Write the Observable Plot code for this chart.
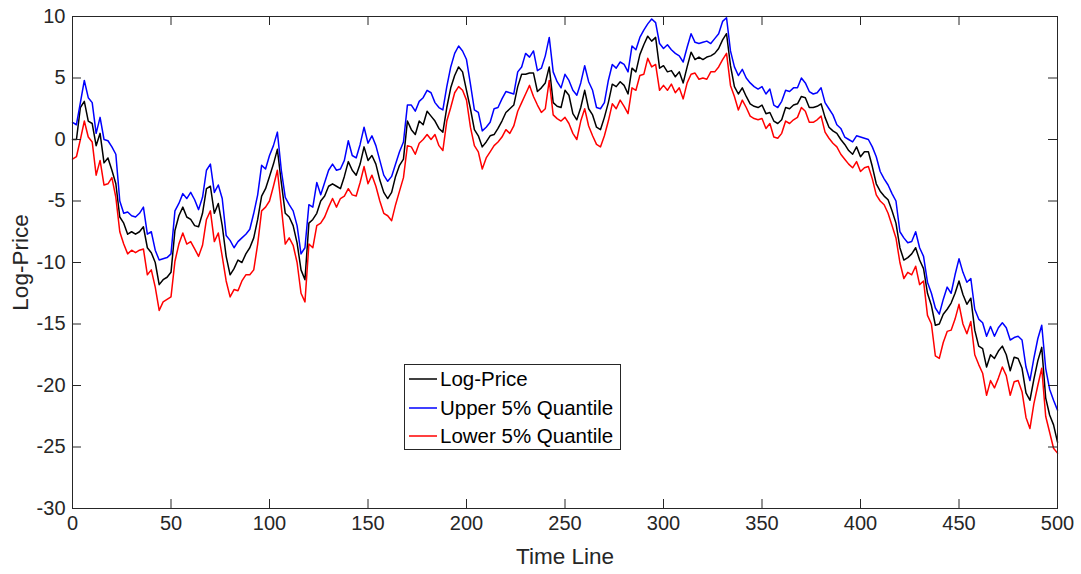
<!DOCTYPE html>
<html><head><meta charset="utf-8">
<script src="https://cdn.jsdelivr.net/npm/d3@7"></script>
<script src="https://cdn.jsdelivr.net/npm/@observablehq/plot@0.6"></script>
<style>
html,body{margin:0;padding:0;background:#fff;}
#chart{position:relative;width:1081px;height:574px;overflow:hidden;}
#legend{position:absolute;}
</style></head><body><div id="chart"></div>
<script>
// time index (every 2nd step of the 0..500 time line)
const timeLine = d3.range(0, 501, 2);

const logPrice = [
  0.0, 0.0, 2.6, 3.1, 1.5, 1.3, -0.5, 0.5, -1.9, -1.5,
  -2.5, -3.6, -6.3, -6.8, -7.7, -7.5, -7.7, -7.5, -7.1, -8.8,
  -9.2, -10.0, -11.8, -11.4, -11.2, -10.8, -7.4, -6.2, -5.5, -6.3,
  -6.5, -7.0, -7.1, -6.0, -4.0, -3.8, -6.0, -5.2, -7.0, -9.5,
  -11.0, -10.5, -9.8, -10.0, -9.3, -8.8, -8.0, -6.5, -4.6, -4.0,
  -3.0, -2.0, -0.8, -3.5, -6.0, -6.3, -7.0, -8.4, -10.6, -11.4,
  -6.8, -6.5, -6.0, -5.0, -4.6, -3.8, -3.6, -3.8, -4.0, -3.0,
  -1.8, -2.5, -2.9, -2.0, -0.6, -1.7, -1.3, -2.0, -3.3, -4.3,
  -4.8, -4.3, -3.0, -2.1, -1.6, 1.5, 0.8, 0.4, 1.5, 1.2,
  2.3, 1.9, 1.5, 0.9, 0.6, 2.6, 4.2, 5.2, 5.9, 5.5,
  4.0, 2.5, 0.8, 0.3, -0.6, -0.2, 0.3, 0.4, 0.9, 1.5,
  2.2, 2.5, 2.8, 4.3, 5.3, 5.3, 5.4, 5.4, 3.9, 4.2,
  4.6, 5.9, 3.0, 2.7, 2.6, 4.0, 3.6, 2.1, 1.6, 2.6,
  4.0, 2.5, 2.0, 1.0, 0.8, 1.8, 3.0, 4.5, 4.3, 4.7,
  4.4, 3.7, 5.8, 5.5, 6.9, 7.7, 8.4, 8.0, 8.3, 5.8,
  6.0, 5.5, 5.6, 5.1, 5.5, 4.6, 5.9, 7.1, 6.5, 6.7,
  6.5, 6.7, 6.8, 7.0, 7.4, 8.1, 8.6, 6.0, 4.3, 3.7,
  4.2, 3.5, 2.9, 2.7, 2.6, 2.8, 2.1, 2.2, 1.5, 1.3,
  1.6, 2.6, 2.5, 2.8, 2.9, 3.5, 3.4, 2.6, 2.6, 2.7,
  2.9, 1.8, 1.0, 0.7, 0.5, 0.0, -0.4, -0.9, -1.2, -0.6,
  -1.4, -1.0, -1.0, -2.2, -3.6, -4.2, -4.6, -4.9, -5.8, -6.8,
  -8.8, -9.8, -9.6, -9.3, -8.8, -9.8, -10.5, -12.5, -13.5, -15.1,
  -15.0, -14.2, -13.8, -13.3, -12.5, -11.5, -12.6, -13.4, -12.9, -15.5,
  -16.8, -17.0, -18.5, -17.5, -17.8, -17.2, -16.8, -17.5, -18.8, -17.7,
  -17.8, -18.6, -20.6, -21.2, -19.5, -18.0, -16.9, -21.0, -22.4, -23.2,
  -24.6
];

const upperQ = [
  1.4, 1.2, 3.0, 4.8, 3.4, 3.0, 0.5, 1.8, 0.0, -0.1,
  -0.6, -1.2, -5.0, -6.0, -5.9, -6.2, -6.3, -6.0, -5.5, -7.7,
  -7.5, -9.0, -9.8, -9.7, -9.6, -9.3, -5.8, -5.2, -4.4, -4.8,
  -4.3, -4.9, -5.7, -4.7, -2.5, -2.0, -4.3, -3.7, -4.8, -7.8,
  -8.2, -8.8, -8.3, -8.0, -7.7, -7.3, -6.0, -4.5, -2.1, -2.4,
  -1.3, -0.5, 0.6, -2.5, -4.7, -5.3, -5.8, -7.0, -9.3, -8.8,
  -5.3, -5.5, -3.5, -4.5, -3.5, -2.5, -2.0, -2.5, -2.4, -1.7,
  -0.1, -1.3, -1.5, -0.4, 1.0, -0.3, 0.3, -0.5, -1.7, -2.9,
  -3.4, -3.0, -2.0, -1.0, -0.2, 2.8, 2.8, 2.3, 3.1, 3.4,
  4.0, 3.8, 3.0, 2.6, 2.4, 4.3, 5.9, 7.0, 7.6, 7.2,
  6.5, 4.5, 2.4, 2.2, 0.7, 1.0, 1.4, 2.5, 2.6, 3.3,
  3.9, 3.8, 3.7, 5.5, 5.9, 7.0, 6.7, 7.2, 5.6, 5.8,
  6.8, 8.3, 5.5, 4.7, 4.2, 5.3, 4.8, 4.0, 3.6, 4.6,
  6.0, 4.7, 4.0, 2.6, 2.5, 3.0, 4.8, 6.1, 5.8, 6.3,
  6.1, 5.5, 7.6, 7.3, 8.3, 8.9, 9.4, 9.8, 9.5, 7.8,
  7.4, 7.7, 7.3, 7.0, 6.8, 6.3, 7.5, 8.6, 7.9, 7.8,
  7.9, 8.0, 7.8, 8.2, 8.6, 9.6, 9.9, 7.2, 5.9, 5.2,
  5.7, 5.0, 4.6, 4.3, 4.1, 4.3, 3.7, 4.1, 2.8, 2.6,
  3.1, 4.0, 3.9, 4.2, 4.2, 5.0, 4.6, 3.9, 3.7, 3.8,
  4.2, 3.0, 2.5, 2.0, 1.2, 0.9, 0.2, 0.0, -0.2, 0.3,
  0.2, 0.1, 0.0, -0.6, -1.4, -2.6, -3.2, -3.7, -4.4, -5.0,
  -7.5, -8.0, -8.4, -8.3, -7.5, -8.8, -9.5, -11.6, -12.5, -13.7,
  -14.2, -13.0, -12.0, -12.5, -11.0, -9.7, -10.8, -11.6, -11.3, -13.8,
  -14.6, -14.9, -16.0, -15.2, -16.0, -15.3, -14.9, -15.3, -16.3, -16.1,
  -16.0, -16.3, -18.5, -19.6, -17.8, -16.2, -15.1, -18.6, -20.3, -21.2,
  -22.0
];

const lowerQ = [
  -1.6, -1.4, 0.0, 1.5, 0.2, -0.2, -2.9, -1.7, -3.7, -3.6,
  -3.1, -4.7, -7.5, -8.5, -9.3, -9.0, -9.2, -9.0, -8.9, -11.0,
  -10.6, -12.0, -13.9, -13.2, -13.0, -12.8, -9.9, -8.5, -7.6, -8.5,
  -8.3, -8.9, -9.5, -8.6, -6.5, -5.8, -8.3, -7.6, -9.5, -11.5,
  -12.8, -12.2, -12.3, -11.5, -11.0, -11.0, -10.6, -8.5, -5.8, -5.5,
  -5.0, -3.8, -2.5, -5.5, -8.5, -8.0, -8.6, -10.0, -12.5, -13.2,
  -8.5, -8.8, -7.0, -6.8, -6.3, -5.5, -4.8, -5.5, -4.8, -4.6,
  -4.0, -4.5, -4.6, -3.5, -2.2, -3.6, -2.9, -3.8, -5.0, -6.0,
  -6.2, -6.6, -5.3, -4.2, -3.1, -0.5, -0.6, -1.2, -0.3, 0.0,
  0.4, 0.0, 0.4, -0.5, -0.9, 1.5, 2.6, 3.8, 4.3, 4.0,
  3.2, 1.0, -0.5, -1.0, -2.4, -1.5, -1.0, -0.5, -0.2, 0.2,
  0.8, 0.5, 1.1, 2.3, 3.0, 3.7, 4.4, 3.5, 2.8, 2.2,
  2.5, 4.8, 2.0, 1.7, 1.5, 1.8, 1.3, 0.5, 0.0, 1.5,
  2.5, 1.1, 0.3, -0.4, -0.6, 0.3, 1.5, 2.9, 2.5, 3.2,
  2.7, 2.1, 4.2, 4.0, 5.2, 5.3, 6.6, 5.9, 6.1, 4.0,
  4.4, 4.0, 4.5, 3.8, 4.2, 3.3, 4.6, 5.3, 5.4, 4.9,
  5.0, 4.9, 5.5, 5.5, 5.9, 6.5, 7.0, 4.4, 3.5, 2.4,
  3.2, 2.6, 1.9, 1.7, 1.6, 1.7, 0.9, 1.3, 0.2, 0.1,
  0.5, 1.5, 1.3, 1.6, 1.8, 2.6, 2.3, 1.4, 1.4, 1.6,
  1.9, 0.6, 0.1, -0.3, -0.6, -1.2, -1.6, -2.0, -2.3, -1.8,
  -2.6, -2.3, -2.2, -3.2, -4.5, -5.0, -5.3, -6.0, -7.0, -8.0,
  -10.0, -11.3, -10.8, -11.0, -10.3, -11.8, -11.5, -14.3, -15.0, -17.6,
  -17.8, -16.5, -15.6, -15.5, -14.6, -13.4, -15.0, -15.8, -14.8, -17.5,
  -18.3, -19.0, -20.8, -19.6, -20.2, -19.4, -18.5, -19.2, -20.8, -19.7,
  -19.6, -20.5, -22.6, -23.5, -21.5, -20.0, -18.6, -22.5, -23.8, -25.1,
  -25.5
];

const xTicks = [0, 50, 100, 150, 200, 250, 300, 350, 400, 450, 500];
const yTicks = [-30, -25, -20, -15, -10, -5, 0, 5, 10];
const seriesNames = ["Log-Price", "Upper 5% Quantile", "Lower 5% Quantile"];
const seriesColors = ["#000000", "#0000ff", "#ff0000"];
const seriesValues = [logPrice, upperQ, lowerQ];

// layout
const W = 1081, H = 574;
const mL = 72, mR = 24, mT = 16, mB = 66;
const fw = W - mL - mR, fh = H - mT - mB;
const tickLen = 9;
const axisColor = "#262626";
const font = "'Liberation Sans', Arial, Helvetica, sans-serif";
const plainFormat = d => String(d);   // ASCII hyphen-minus like MATLAB

const rows = [];
seriesValues.forEach((vals, s) => {
  vals.forEach((v, i) => rows.push({t: timeLine[i], v, s: seriesNames[s]}));
});

const plot = Plot.plot({
  width: W, height: H,
  marginLeft: mL, marginRight: mR, marginTop: mT, marginBottom: mB,
  style: {fontFamily: font, background: "#fff", color: axisColor, overflow: "visible"},
  x: {domain: [0, 500]},
  y: {domain: [-30, 10]},
  color: {domain: seriesNames, range: seriesColors},
  marks: [
    Plot.line(rows, {x: "t", y: "v", z: "s", stroke: "s", strokeWidth: 1.5, strokeLinejoin: "round"}),
    Plot.frame({stroke: axisColor, strokeWidth: 1}),
    Plot.ruleX(xTicks, {x: d => d, insetTop: fh - tickLen, stroke: axisColor}),
    Plot.ruleX(xTicks, {x: d => d, insetBottom: fh - tickLen, stroke: axisColor}),
    Plot.ruleY(yTicks, {y: d => d, insetRight: fw - tickLen, stroke: axisColor}),
    Plot.ruleY(yTicks, {y: d => d, insetLeft: fw - tickLen, stroke: axisColor}),
    Plot.axisX(xTicks, {tickSize: 0, tickPadding: 7, fontSize: 20, fill: axisColor, tickFormat: plainFormat,
      label: "Time Line", labelAnchor: "center", labelArrow: "none", labelOffset: 55}),
    Plot.axisY(yTicks, {tickSize: 0, tickPadding: 7, fontSize: 20, fill: axisColor, tickFormat: plainFormat,
      label: "Log-Price", labelAnchor: "center", labelArrow: "none", labelOffset: 60})
  ]
});
// larger font for axis labels
d3.select(plot).selectAll("g[aria-label='x-axis label'] text, g[aria-label='y-axis label'] text")
  .style("font-size", "22.5px");

const chart = document.getElementById("chart");
chart.appendChild(plot);

// legend (MATLAB-style box)
const lg = {x: 404, y: 364, w: 217, h: 86, rowY: [15, 44, 72], lineX0: 5, lineX1: 33, textX: 36};
const leg = d3.select(chart).append("svg")
  .attr("id", "legend")
  .attr("width", lg.w).attr("height", lg.h)
  .style("left", lg.x + "px").style("top", lg.y + "px");
leg.append("rect").attr("x", 0.5).attr("y", 0.5).attr("width", lg.w - 1).attr("height", lg.h - 1)
  .attr("fill", "#fff").attr("stroke", axisColor).attr("stroke-width", 1);
seriesNames.forEach((name, i) => {
  leg.append("line").attr("x1", lg.lineX0).attr("x2", lg.lineX1)
    .attr("y1", lg.rowY[i]).attr("y2", lg.rowY[i])
    .attr("stroke", seriesColors[i]).attr("stroke-width", 1.5);
  leg.append("text").attr("x", lg.textX).attr("y", lg.rowY[i])
    .attr("dy", "0.35em").attr("font-family", font).attr("font-size", 20.5)
    .attr("fill", "#000").text(name);
});
</script></body></html>
